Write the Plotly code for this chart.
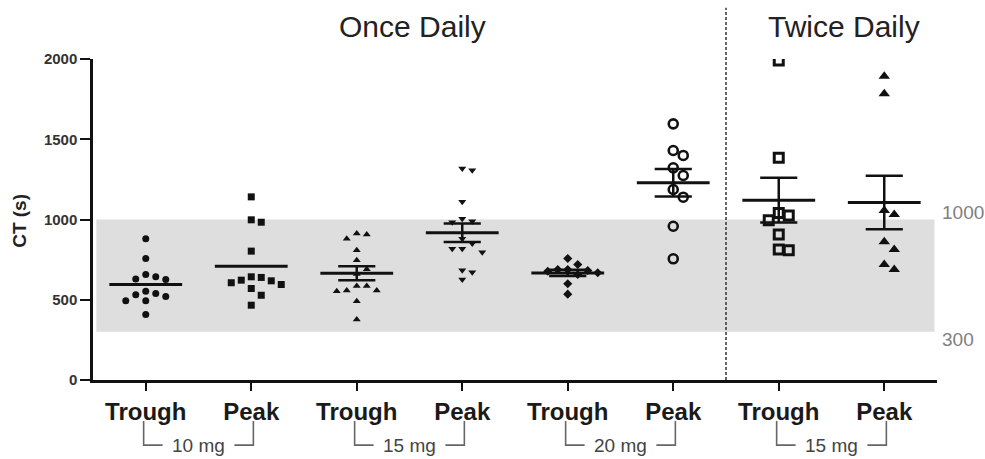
import numpy as np
import plotly.graph_objects as go

# ---------------- data ----------------
categories = ["Trough", "Peak", "Trough", "Peak", "Trough", "Peak", "Trough", "Peak"]
dose_labels = ["10 mg", "15 mg", "20 mg", "15 mg"]
regimen_labels = ["Once Daily", "Twice Daily"]

trough_10 = [880, 757, 657, 643, 630, 626, 553, 539, 531, 520, 493, 493, 408]
peak_10 = [1141, 998, 983, 803, 643, 639, 622, 618, 606, 595, 570, 528, 466]
trough_15 = [913, 906, 880, 809, 746, 690, 660, 585, 585, 557, 557, 553, 491, 377]
peak_15 = [1318, 1307, 1110, 1004, 989, 983, 880, 850, 817, 817, 796, 684, 672, 626]
trough_20 = [757, 720, 688, 688, 682, 678, 668, 657, 600, 535]
peak_20 = [1596, 1430, 1399, 1322, 1274, 1187, 1139, 958, 755]
trough_15_bid = [1991, 1385, 1040, 1025, 995, 906, 813, 809]
peak_15_bid = [1893, 1783, 1056, 1031, 861, 813, 720, 688]

groups = [trough_10, peak_10, trough_15, peak_15, trough_20, peak_20, trough_15_bid, peak_15_bid]
show_sem = [False, False, True, True, True, True, True, True]

band_low, band_high = 300, 1000
y_ticks = [0, 500, 1000, 1500, 2000]

# ---------------- styles ----------------
symbols = ["circle", "square", "triangle-up", "triangle-down", "diamond",
           "circle-open", "square-open", "triangle-up"]
sizes = [7, 7, 7, 7, 7, 9, 9, 10]
line_w = [0, 0, 0, 0, 0, 2.6, 3, 0]

W, H = 985, 459
ML, MR, MT, MB = 93, 48, 59, 79
PW, PH = W - ML - MR, H - MT - MB
X_RANGE = (-0.5, 7.5)
Y_RANGE = (0, 2000)
X_PX = PW / (X_RANGE[1] - X_RANGE[0])
Y_PX = PH / (Y_RANGE[1] - Y_RANGE[0])
FONT = "Liberation Sans, Arial, Helvetica, sans-serif"


def swarm(vals, step_px=10.0, min_px=9.0):
    placed = []
    offs = [0.0] * len(vals)
    order = sorted(range(len(vals)), key=lambda k: -vals[k])
    cands = [0.0] + [s * m * step_px for m in range(1, 12) for s in (1, -1)]
    for k in order:
        y = vals[k] * Y_PX
        chosen = cands[-1]
        for c in cands:
            if all((c - px) ** 2 + (y - py) ** 2 >= min_px ** 2 for px, py in placed):
                chosen = c
                break
        placed.append((chosen, y))
        offs[k] = chosen / X_PX
    return offs


fig = go.Figure()

# points
for i, vals in enumerate(groups):
    offs = swarm(vals)
    fig.add_trace(go.Scatter(
        x=[i + o for o in offs], y=vals, mode="markers",
        marker=dict(symbol=symbols[i], size=sizes[i], color="#111111",
                    line=dict(width=line_w[i], color="#111111")),
        showlegend=False, hoverinfo="y"))

# mean and SEM
mx, my, sx, sy = [], [], [], []
for i, vals in enumerate(groups):
    v = np.array(vals, dtype=float)
    m = v.mean()
    mx += [i - 0.345, i + 0.345, None]
    my += [m, m, None]
    if show_sem[i]:
        s = v.std(ddof=1) / np.sqrt(len(v))
        sx += [i, i, None, i - 0.176, i + 0.176, None, i - 0.176, i + 0.176, None]
        sy += [m - s, m + s, None, m + s, m + s, None, m - s, m - s, None]
fig.add_trace(go.Scatter(x=sx, y=sy, mode="lines", line=dict(color="#111111", width=2.5),
                         showlegend=False, hoverinfo="skip"))
fig.add_trace(go.Scatter(x=mx, y=my, mode="lines", line=dict(color="#111111", width=3),
                         showlegend=False, hoverinfo="skip"))

shapes = []
# reference band
shapes.append(dict(type="rect", xref="paper", yref="y", x0=0.004, x1=0.997,
                   y0=band_low, y1=band_high, fillcolor="#dedede",
                   line=dict(width=0), layer="below"))
# divider between regimens
shapes.append(dict(type="line", xref="x", yref="paper", x0=5.5, x1=5.5, y0=0, y1=1.16,
                   line=dict(color="#333333", width=1.5, dash="3px,2px")))

# dose brackets
top_p = -0.128
bot_p = -0.203
half_txt = 0.34
annotations = []
for g, lab in enumerate(dose_labels):
    a, b = 2 * g, 2 * g + 1
    l, r = a - 0.02, b + 0.02
    c = (a + b) / 2
    path = (f"M {l},{top_p} L {l},{bot_p} L {c - half_txt},{bot_p} "
            f"M {c + half_txt},{bot_p} L {r},{bot_p} L {r},{top_p}")
    shapes.append(dict(type="path", xref="x", yref="paper", path=path,
                       line=dict(color="#666666", width=1.6)))
    annotations.append(dict(x=c, y=bot_p, xref="x", yref="paper", text=lab,
                            showarrow=False, xanchor="center", yanchor="middle",
                            font=dict(family=FONT, size=19, color="#444444")))

# regimen titles
annotations.append(dict(x=2.53, y=1.10, xref="x", yref="paper", text=regimen_labels[0],
                        showarrow=False, xanchor="center", yanchor="middle",
                        font=dict(family=FONT, size=30, color="#222222")))
annotations.append(dict(x=6.62, y=1.10, xref="x", yref="paper", text=regimen_labels[1],
                        showarrow=False, xanchor="center", yanchor="middle",
                        font=dict(family=FONT, size=30, color="#222222")))

# band labels
for val in (band_high, band_low):
    annotations.append(dict(x=1.003, y=val, xref="paper", yref="y", text=str(val),
                            showarrow=False, xanchor="left",
                            yanchor="bottom" if val == band_high else "top",
                            yshift=-5 if val == band_high else 5,
                            font=dict(family=FONT, size=19, color="#808080")))

# y title
annotations.append(dict(x=-0.088, y=0.495, xref="paper", yref="paper", text="<b>CT (s)</b>",
                        textangle=-90, showarrow=False, xanchor="center", yanchor="middle",
                        font=dict(family=FONT, size=19, color="#222222")))

fig.update_layout(
    width=W, height=H,
    margin=dict(l=ML, r=MR, t=MT, b=MB, pad=0),
    plot_bgcolor="white", paper_bgcolor="white",
    shapes=shapes, annotations=annotations,
    xaxis=dict(range=list(X_RANGE), tickmode="array", tickvals=list(range(len(categories))),
               ticktext=[f"<b>{c}</b>" for c in categories], showgrid=False, zeroline=False,
               showline=True, linecolor="#111111", linewidth=2.5,
               ticks="outside", ticklen=8, tickwidth=2, tickcolor="#111111",
               tickfont=dict(family=FONT, size=24, color="#1a1a1a")),
    yaxis=dict(range=list(Y_RANGE), tickmode="array", tickvals=y_ticks,
               ticktext=[f"<b>{t}</b>" for t in y_ticks], showgrid=False, zeroline=False,
               showline=True, linecolor="#111111", linewidth=2.5,
               ticks="outside", ticklen=10, tickwidth=2, tickcolor="#111111",
               tickfont=dict(family=FONT, size=15, color="#333333")),
)

fig.write_html("out.html", config={"displayModeBar": False},
               post_script="document.body.style.margin='0px';document.body.style.overflow='hidden';")
